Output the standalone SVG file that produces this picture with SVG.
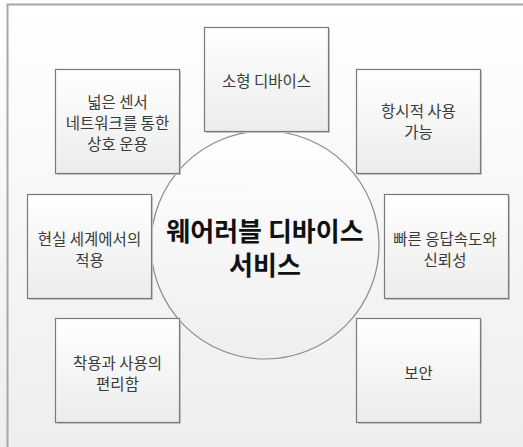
<svg xmlns="http://www.w3.org/2000/svg" width="523" height="447" viewBox="0 0 523 447">
<defs>
<linearGradient id="bg" x1="0" y1="0" x2="0" y2="1">
<stop offset="0" stop-color="#ffffff"/>
<stop offset="1" stop-color="#eeeeee"/>
</linearGradient>
<linearGradient id="boxg" x1="0" y1="0" x2="0" y2="1">
<stop offset="0" stop-color="#ffffff"/>
<stop offset="1" stop-color="#ececec"/>
</linearGradient>
<linearGradient id="circg" x1="0" y1="0" x2="0" y2="1">
<stop offset="0" stop-color="#ffffff"/>
<stop offset="1" stop-color="#eeeeee"/>
</linearGradient>
</defs>
<style>
.box{fill:url(#boxg);stroke:#7a7a7a;stroke-width:1.2}
.sh{fill:#c8c8c8}
.t{font-family:"Noto Sans CJK KR","Noto Sans",sans-serif;font-size:15.5px;fill:#3a3a3a;text-anchor:middle;dominant-baseline:central}
.c{font-family:"Noto Sans CJK KR","Noto Sans",sans-serif;font-size:26px;font-weight:bold;fill:#111;text-anchor:middle;dominant-baseline:central}
</style>
<rect x="0" y="0" width="523" height="447" fill="url(#bg)"/>
<path d="M7.5 447 V4.5 H523" fill="none" stroke="#a8a8a8" stroke-width="2"/>
<g id="connectors"></g>
<g id="center">
<ellipse cx="265" cy="245" rx="114" ry="114" fill="url(#circg)" stroke="#8a8a8a" stroke-width="1.2"/>
<text class="c" x="265" y="229">웨어러블 디바이스</text>
<text class="c" x="265" y="263">서비스</text>
</g>
<g id="n-top">
<rect class="sh" x="206" y="29" width="124" height="104"/>
<rect class="box" x="204.5" y="27.5" width="124" height="104"/>
<text class="t" x="266.5" y="80">소형 디바이스</text>
</g>
<g id="n-topleft">
<rect class="sh" x="57" y="71" width="124" height="104"/>
<rect class="box" x="55.5" y="69.5" width="124" height="104"/>
<text class="t" x="117.5" y="101.3">넓은 센서</text>
<text class="t" x="117.5" y="122.3">네트워크를 통한</text>
<text class="t" x="117.5" y="143.3">상호 운용</text>
</g>
<g id="n-topright">
<rect class="sh" x="358" y="71" width="124" height="104"/>
<rect class="box" x="356.5" y="69.5" width="124" height="104"/>
<text class="t" x="418.5" y="109.8">항시적 사용</text>
<text class="t" x="418.5" y="130.8">가능</text>
</g>
<g id="n-midleft">
<rect class="sh" x="29" y="196" width="124" height="104"/>
<rect class="box" x="27.5" y="194.5" width="124" height="104"/>
<text class="t" x="89.5" y="237.5">현실 세계에서의</text>
<text class="t" x="89.5" y="258.5">적용</text>
</g>
<g id="n-midright">
<rect class="sh" x="386" y="196" width="124" height="104"/>
<rect class="box" x="384.5" y="194.5" width="124" height="104"/>
<text class="t" x="445" y="237.5">빠른 응답속도와</text>
<text class="t" x="445" y="258.5">신뢰성</text>
</g>
<g id="n-botleft">
<rect class="sh" x="57" y="320" width="124" height="104"/>
<rect class="box" x="55.5" y="318.5" width="124" height="104"/>
<text class="t" x="117.5" y="361.5">착용과 사용의</text>
<text class="t" x="117.5" y="382.5">편리함</text>
</g>
<g id="n-botright">
<rect class="sh" x="358" y="320" width="124" height="104"/>
<rect class="box" x="356.5" y="318.5" width="124" height="104"/>
<text class="t" x="418.5" y="372">보안</text>
</g>
</svg>
